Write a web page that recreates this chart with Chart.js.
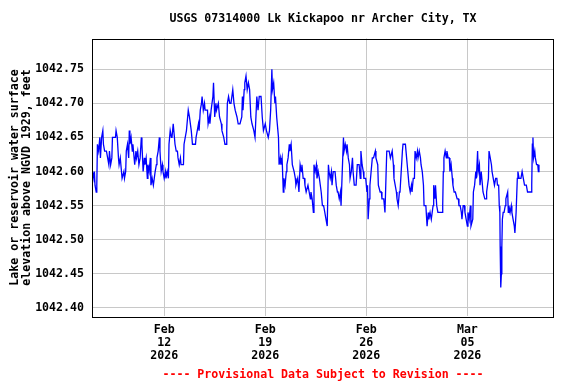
<!DOCTYPE html>
<html>
<head>
<meta charset="utf-8">
<title>USGS 07314000 Lk Kickapoo nr Archer City, TX</title>
<script src="https://cdn.jsdelivr.net/npm/chart.js@4.4.1/dist/chart.umd.min.js"></script>
<style>
  body { margin: 0; background: #fff; }
  #grafico { display: block; }
</style>
</head>
<body>
<canvas id="grafico" width="576" height="384"></canvas>
<script>
// hours since 2026-02-07 00:00
var hours = [
  1,3,4,5,7,8,9,11,13,14,
  16,18,19,21,24,26,28,29,31,33,
  34,39,40,42,44,45,47,49,50,53,
  54,56,57,59,61,62,63,65,67,68,
  71,73,74,76,78,80,82,83,85,87,
  88,90,92,93,95,97,98,100,102,103,
  105,107,108,110,112,113,115,117,118,120,
  122,123,125,127,128,130,132,133,135,137,
  138,140,142,143,145,147,148,152,153,155,
  157,159,160,162,165,167,172,173,175,177,
  178,180,182,183,185,187,188,192,193,195,
  196,198,201,202,204,206,207,210,212,215,
  216,219,221,223,224,225,227,229,231,234,
  236,238,241,243,246,249,250,251,253,254,
  256,258,260,262,264,266,269,271,274,276,
  278,281,283,285,288,290,293,295,297,299,
  300,302,304,305,307,309,310,311,313,314,
  316,318,319,321,323,324,326,328,329,331,
  333,334,336,338,339,342,344,346,348,349,
  351,353,354,356,359,361,363,364,366,368,
  369,371,373,374,376,378,379,381,383,385,
  387,389,391,393,394,396,398,399,401,404,
  406,408,409,411,413,414,416,418,419,421,
  423,424,426,428,429,431,433,434,436,439,
  441,444,446,447,449,451,452,455,457,458,
  459,461,462,464,466,468,471,472,475,476,
  479,481,482,485,487,488,490,494,496,499,
  501,502,504,506,507,509,511,512,514,516,
  517,521,522,524,526,527,529,531,532,534,
  536,537,539,541,542,544,546,547,549,551,
  552,555,557,559,560,562,564,567,568,570,
  571,573,575,579,582,583,584,585,587,589,
  590,592,594,595,597,599,600,602,604,607,
  609,610,612,614,615,617,619,620,622,624,
  625,627,629,630,633,634,636,638,639,641,
  642,644,645,647,649,650,653,655,656,659,
  660,662,664,665,667,669,671,673,674,676,
  677,678,678.5,679.5,680.5,681.3,682.2,683.5,685,687,
  688,691,692,693,695,697,698,700,702,703,
  705,707,708,710,713,715,717,719,722,724,
  727,730,731,732,733,734,736,737,739,741,
  742,743
];

// water surface elevation, feet
var levels = [
  1042.60,1042.59,1042.60,1042.58,1042.57,1042.58,1042.64,1042.63,1042.65,1042.62,
  1042.65,1042.66,1042.64,1042.63,1042.63,1042.62,1042.61,1042.63,1042.61,1042.62,
  1042.65,1042.65,1042.66,1042.65,1042.62,1042.61,1042.62,1042.60,1042.59,1042.60,
  1042.59,1042.60,1042.63,1042.64,1042.62,1042.66,1042.64,1042.65,1042.63,1042.64,
  1042.61,1042.63,1042.62,1042.63,1042.61,1042.62,1042.65,1042.64,1042.60,1042.62,
  1042.61,1042.62,1042.59,1042.61,1042.60,1042.62,1042.58,1042.59,1042.58,1042.58,
  1042.60,1042.61,1042.62,1042.63,1042.65,1042.63,1042.60,1042.61,1042.60,1042.59,
  1042.60,1042.59,1042.60,1042.59,1042.64,1042.66,1042.65,1042.65,1042.67,1042.65,
  1042.64,1042.63,1042.63,1042.62,1042.61,1042.62,1042.61,1042.61,1042.64,1042.65,
  1042.66,1042.68,1042.69,1042.68,1042.66,1042.64,1042.64,1042.65,1042.66,1042.67,
  1042.66,1042.69,1042.70,1042.71,1042.69,1042.70,1042.69,1042.69,1042.67,1042.68,
  1042.67,1042.69,1042.71,1042.73,1042.68,1042.70,1042.69,1042.70,1042.68,1042.67,
  1042.66,1042.65,1042.64,1042.64,1042.66,1042.70,1042.71,1042.70,1042.70,1042.72,
  1042.70,1042.69,1042.68,1042.67,1042.67,1042.68,1042.71,1042.69,1042.72,1042.73,
  1042.74,1042.72,1042.73,1042.72,1042.68,1042.67,1042.66,1042.65,1042.71,1042.69,
  1042.71,1042.71,1042.68,1042.66,1042.67,1042.66,1042.65,1042.66,1042.69,1042.75,
  1042.72,1042.73,1042.70,1042.71,1042.68,1042.66,1042.65,1042.61,1042.62,1042.61,
  1042.62,1042.57,1042.59,1042.58,1042.60,1042.61,1042.62,1042.64,1042.63,1042.64,
  1042.61,1042.61,1042.60,1042.59,1042.58,1042.59,1042.57,1042.61,1042.60,1042.61,
  1042.59,1042.59,1042.58,1042.57,1042.58,1042.57,1042.56,1042.57,1042.56,1042.54,
  1042.61,1042.60,1042.61,1042.59,1042.60,1042.59,1042.59,1042.57,1042.55,1042.55,
  1042.54,1042.53,1042.52,1042.61,1042.60,1042.59,1042.60,1042.58,1042.60,1042.60,
  1042.58,1042.57,1042.57,1042.56,1042.57,1042.55,1042.60,1042.65,1042.63,1042.64,
  1042.63,1042.64,1042.62,1042.61,1042.59,1042.60,1042.62,1042.60,1042.58,1042.58,
  1042.61,1042.61,1042.59,1042.63,1042.61,1042.60,1042.59,1042.59,1042.57,1042.58,
  1042.53,1042.56,1042.58,1042.60,1042.62,1042.62,1042.63,1042.62,1042.61,1042.58,
  1042.57,1042.57,1042.56,1042.56,1042.54,1042.57,1042.63,1042.63,1042.62,1042.63,
  1042.61,1042.59,1042.58,1042.57,1042.56,1042.55,1042.57,1042.57,1042.60,1042.63,
  1042.64,1042.64,1042.63,1042.61,1042.59,1042.58,1042.57,1042.58,1042.57,1042.59,
  1042.59,1042.63,1042.62,1042.63,1042.62,1042.63,1042.62,1042.61,1042.60,1042.58,
  1042.55,1042.55,1042.52,1042.54,1042.53,1042.54,1042.53,1042.55,1042.58,1042.56,
  1042.58,1042.55,1042.54,1042.54,1042.54,1042.55,1042.60,1042.62,1042.63,1042.62,
  1042.63,1042.62,1042.62,1042.60,1042.61,1042.59,1042.58,1042.57,1042.57,1042.56,
  1042.56,1042.55,1042.55,1042.54,1042.53,1042.55,1042.55,1042.54,1042.53,1042.52,
  1042.54,1042.53,1042.55,1042.52,1042.53,1042.57,1042.58,1042.60,1042.59,1042.63,
  1042.60,1042.61,1042.58,1042.60,1042.58,1042.57,1042.56,1042.56,1042.57,1042.59,
  1042.63,1042.62,1042.61,1042.60,1042.59,1042.58,1042.59,1042.59,1042.58,1042.58,
  1042.55,1042.54,1042.49,1042.43,1042.45,1042.49,1042.53,1042.54,1042.54,1042.55,
  1042.56,1042.57,1042.54,1042.55,1042.54,1042.55,1042.54,1042.53,1042.52,1042.51,
  1042.54,1042.59,1042.60,1042.59,1042.59,1042.60,1042.59,1042.58,1042.58,1042.57,
  1042.57,1042.57,1042.58,1042.64,1042.65,1042.62,1042.63,1042.62,1042.61,1042.61,
  1042.60,1042.61
];

// axis ticks
var yTicks = [1042.40, 1042.45, 1042.50, 1042.55, 1042.60, 1042.65, 1042.70, 1042.75];
var xTickHours = [120, 288, 456, 624];
var xTickMonth = ["Feb", "Feb", "Feb", "Mar"];
var xTickDay = ["12", "19", "26", "05"];
var xTickYear = ["2026", "2026", "2026", "2026"];

var fuente = "'DejaVu Sans Mono', 'Liberation Mono', monospace";

// frame around the plot area
var marco = {
  id: "marco",
  afterDraw: function (chart) {
    var a = chart.chartArea;
    var ctx = chart.ctx;
    ctx.save();
    ctx.strokeStyle = "#000";
    ctx.lineWidth = 1;
    ctx.strokeRect(Math.round(a.left) + 0.5, Math.round(a.top) + 0.5,
      Math.round(a.right - a.left) - 1, Math.round(a.bottom - a.top));
    ctx.restore();
  }
};

var puntos = [];
for (var i = 0; i < hours.length; i++) {
  puntos.push({ x: hours[i], y: levels[i] });
}

new Chart(document.getElementById("grafico"), {
  type: "line",
  data: {
    datasets: [{
      data: puntos,
      borderColor: "#0000ff",
      borderWidth: 1.3,
      pointRadius: 0,
      tension: 0,
      fill: false
    }]
  },
  options: {
    responsive: false,
    animation: false,
    layout: { padding: { left: 0, right: 22, top: 0, bottom: 0 } },
    plugins: {
      legend: { display: false },
      tooltip: { enabled: false },
      title: {
        display: true,
        fullSize: false,
        text: "USGS 07314000 Lk Kickapoo nr Archer City, TX",
        color: "#000",
        font: { family: fuente, size: 11.6, weight: "bold", lineHeight: 1.2 },
        padding: { top: 12, bottom: 12.6 }
      },
      subtitle: {
        display: true,
        fullSize: false,
        position: "bottom",
        text: "---- Provisional Data Subject to Revision ----",
        color: "#ff0000",
        font: { family: fuente, size: 11.6, weight: "bold", lineHeight: 1.2 },
        padding: { top: 4, bottom: 2 }
      }
    },
    scales: {
      x: {
        type: "linear",
        min: 0,
        max: 768,
        afterFit: function (scale) { scale.height = 47.6; },
        afterBuildTicks: function (scale) {
          scale.ticks = xTickHours.map(function (h) { return { value: h }; });
        },
        grid: { color: "#c8c8c8", lineWidth: 1, drawTicks: false },
        border: { display: false },
        ticks: {
          autoSkip: false,
          maxRotation: 0,
          padding: 7,
          color: "#000",
          font: { family: fuente, size: 11.6, weight: "bold", lineHeight: 1.12 },
          callback: function (value, index) {
            return [xTickMonth[index], xTickDay[index], xTickYear[index]];
          }
        }
      },
      y: {
        type: "linear",
        min: 1042.3875,
        max: 1042.795,
        afterFit: function (scale) { scale.width = 92; },
        afterBuildTicks: function (scale) {
          scale.ticks = yTicks.map(function (v) { return { value: v }; });
        },
        grid: { color: "#c8c8c8", lineWidth: 1, drawTicks: false },
        border: { display: false },
        ticks: {
          padding: 8,
          color: "#000",
          font: { family: fuente, size: 11.6, weight: "bold" },
          callback: function (value) { return value.toFixed(2); }
        },
        title: {
          display: true,
          text: ["Lake or reservoir water surface", "elevation above NGVD 1929, feet"],
          color: "#000",
          font: { family: fuente, size: 11.6, weight: "bold", lineHeight: 1.03 },
          padding: { top: 9, bottom: 0 }
        }
      }
    }
  },
  plugins: [marco]
});
</script>
</body>
</html>
